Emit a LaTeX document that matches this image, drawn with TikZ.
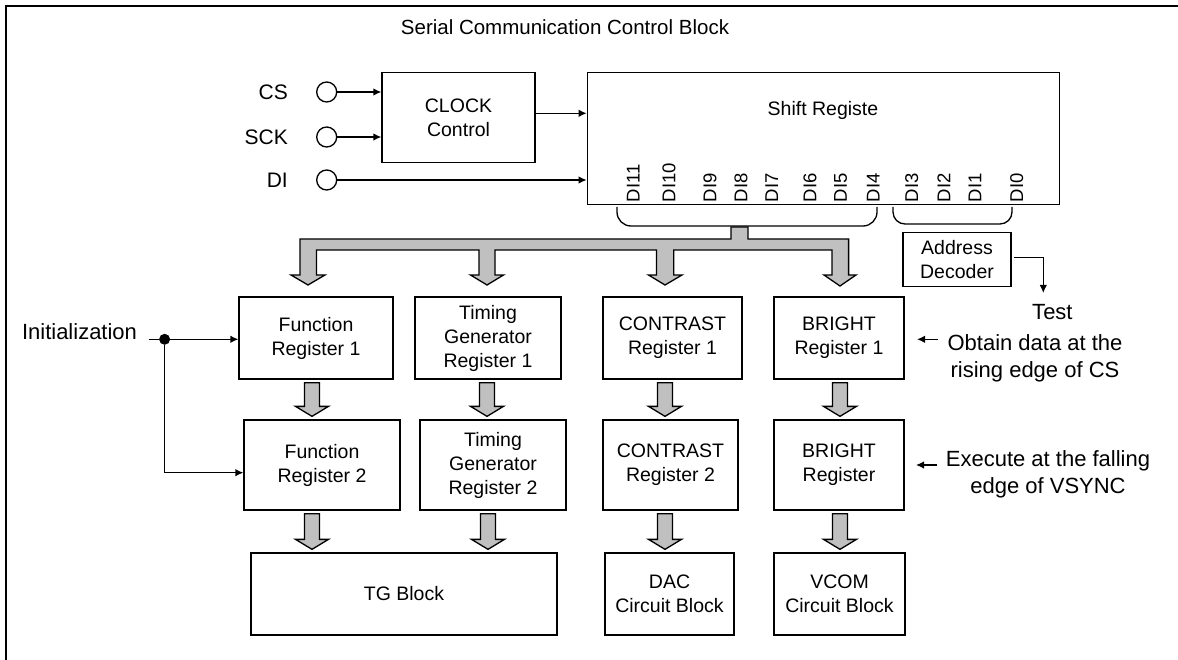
\documentclass[tikz,border=0pt]{standalone}
\usepackage{fontspec}
\setmainfont{Liberation Sans}
\usetikzlibrary{arrows.meta,calc}
\definecolor{busgray}{RGB}{192,192,192}
\newcommand{\garr}[3]{%
  \draw[garrow] ($(#2.south -| #1,0)+(-7.5,3)$) -- ++(15,0)
    -- ($(#3.north -| #1,0)+(7.5,-13)$) -- ++(9,0)
    -- ($(#3.north -| #1,0)+(0,-3)$)
    -- ($(#3.north -| #1,0)+(-16.5,-13)$) -- ++(9,0) -- cycle;}
\begin{document}
\begin{tikzpicture}[x=1pt,y=-1pt,
  box/.style={draw,line width=1.3pt,align=center,inner sep=0pt,font=\fontsize{19.5}{24}\selectfont},
  lbl/.style={inner sep=0pt,align=center,font=\fontsize{22}{27}\selectfont},
  arr/.style={line width=1.3pt,-{Latex[length=8pt,width=7.5pt]}},
  garrow/.style={draw,line width=1.3pt,fill=busgray,line join=miter},
  di/.style={rotate=90,anchor=west,inner sep=0pt,font=\fontsize{18.5}{18.5}\selectfont},
  pin/.style={draw,circle,line width=1.3pt,minimum size=20pt,inner sep=0pt}]
\useasboundingbox (0,0) rectangle (1178,660);
% frame
\draw[line width=2pt] (6.2,665) -- (6.2,6.2) -- (1185,6.2);
\node[inner sep=0pt,font=\fontsize{20.5}{24}\selectfont] (title) at (565,27) {Serial Communication Control Block};
% inputs
\node[lbl,anchor=east,font=\fontsize{21}{21}\selectfont] (cs) at (288,92) {CS};
\node[lbl,anchor=east,font=\fontsize{21}{21}\selectfont] (sck) at (288,137) {SCK};
\node[lbl,anchor=east,font=\fontsize{21}{21}\selectfont] (di) at (288,180) {DI};
\node[pin] (csp) at (326.7,92) {};
\node[pin] (sckp) at (326.7,137) {};
\node[pin] (dip) at (326.7,180) {};
\node[box,minimum width=153pt,minimum height=90pt] (clock) at (458.5,117.7) {CLOCK\\Control};
\node[box,minimum width=472pt,minimum height=131.6pt] (sr) at (823.3,138.5) {};
\node[box,draw=none] (srt) at (823,110) {Shift Registe};
\draw[arr] (csp.east) -- (csp.east -| clock.west);
\draw[arr] (sckp.east) -- (sckp.east -| clock.west);
\draw[arr] (dip.east) -- (dip.east -| sr.west);
\draw[arr] (clock.east |- 0,113.3) -- (sr.west |- 0,113.3);
% DI labels
\foreach \n/\x in {DI11/633.3,DI10/669,DI9/710,DI8/741,DI7/771.7,DI6/810,DI5/840.7,DI4/873.3,DI3/911.7,DI2/944,DI1/975,DI0/1016.7}
  \node[di] (\n) at (\x,202.5) {\n};
% braces
\draw[line width=1.3pt,rounded corners=14pt] (617,207) -- (617,226) -- (877,226) -- (877,207);
\draw[line width=1.3pt,rounded corners=12pt] (893,207) -- (893,224) -- (1012,224) -- (1012,207);
% address decoder
\node[box,minimum width=108pt,minimum height=53.6pt] (ad) at (957,259.5) {Address\\Decoder};
\node[lbl] (test) at (1052.4,311.7) {Test};
\coordinate (tp) at (1043.3,293);
\draw[arr] ([xshift=2pt,yshift=2pt]ad.east) -| (tp);
% bus
\draw[garrow] (731,227) -- (748,227) -- (748,239) -- (848.6,239) -- (848.6,275) -- (856,275) -- (840,286) -- (824,275) -- (832,275) -- (832,250)
  -- (673.7,250) -- (673.7,275) -- (682,275) -- (665,285) -- (648.5,275) -- (656.5,275) -- (656.5,250)
  -- (495,250) -- (495,275) -- (503.5,275) -- (487,285) -- (470.5,275) -- (479,275) -- (479,250)
  -- (316.5,250) -- (316.5,275) -- (325,275) -- (308,285) -- (291,275) -- (300,275) -- (300,239) -- (731,239) -- cycle;
% row 1
\node[box,minimum width=154pt,minimum height=82pt] (fr1) at (316,338) {Function\\Register 1};
\node[box,minimum width=146pt,minimum height=82pt] (tg1) at (488,338) {Timing\\Generator\\Register 1};
\node[box,minimum width=139pt,minimum height=82pt] (cr1) at (672.5,338) {CONTRAST\\Register 1};
\node[box,minimum width=130pt,minimum height=82pt] (br1) at (839,338) {BRIGHT\\Register 1};
% row 2
\node[box,minimum width=156pt,minimum height=90pt] (fr2) at (322,465) {Function\\Register 2};
\node[box,minimum width=146pt,minimum height=90pt] (tg2) at (493,465) {Timing\\Generator\\Register 2};
\node[box,minimum width=135pt,minimum height=90pt] (cr2) at (670.5,465) {CONTRAST\\Register 2};
\node[box,minimum width=130pt,minimum height=90pt] (br2) at (839,465) {BRIGHT\\Register};
% row 3
\node[box,minimum width=306pt,minimum height=82pt] (tgb) at (404,594) {TG Block};
\node[box,minimum width=129pt,minimum height=82pt] (dac) at (669.5,594) {DAC\\Circuit Block};
\node[box,minimum width=131pt,minimum height=82pt] (vcom) at (839.5,594) {VCOM\\Circuit Block};
% gray arrows
\garr{312}{fr1}{fr2}
\garr{487}{tg1}{tg2}
\garr{665}{cr1}{cr2}
\garr{840}{br1}{br2}
\garr{312}{fr2}{tgb}
\garr{488}{tg2}{tgb}
\garr{665}{cr2}{dac}
\garr{840}{br2}{vcom}
% initialization
\node[lbl] (init) at (79.5,331.7) {Initialization};
\node[circle,fill,inner sep=0pt,minimum size=11pt] (dot) at (164.6,339.3) {};
\coordinate (il) at (148.5,339.3);
\draw[line width=1.3pt] (il) -- (dot);
\draw[arr] (dot) -- (dot -| fr1.west);
\draw[arr] (dot) |- (fr2.west |- 0,472.7);
% notes
\node[lbl] (n1) at (1035,358) {Obtain data at the\\rising edge of CS};
\node[lbl] (n2) at (1048,474) {Execute at the falling\\edge of VSYNC};
\coordinate (a1s) at (938,339.3);
\coordinate (a1e) at (917,339.3);
\coordinate (a2s) at (937,465);
\coordinate (a2e) at (916,465);
\draw[arr] (a1s) -- (a1e);
\draw[arr] (a2s) -- (a2e);
\end{tikzpicture}
\end{document}
